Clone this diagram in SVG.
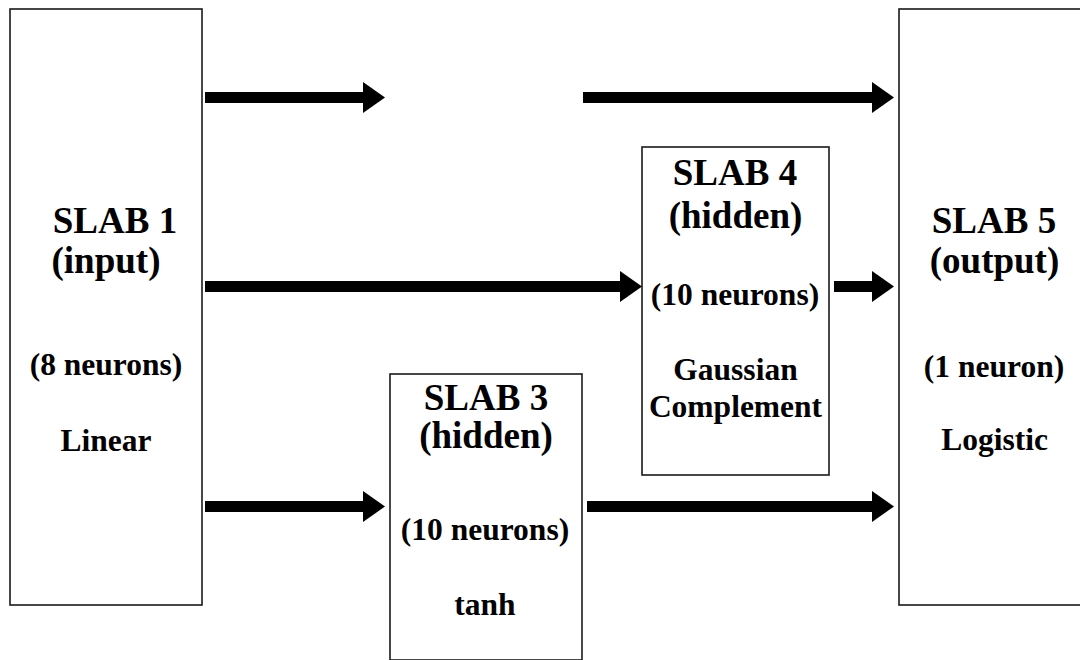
<svg xmlns="http://www.w3.org/2000/svg" width="1080" height="660" viewBox="0 0 1080 660">
<style>
.box{fill:#fff;stroke:#1a1a1a;stroke-width:1.6}
.t{font-family:"Liberation Serif","Times New Roman",serif;font-weight:bold;fill:#000;text-anchor:middle}
.big{font-size:37px}
.sm{font-size:31.5px}
.arr{stroke:#000;stroke-width:11;fill:none;marker-end:url(#ah)}
</style>
<defs>
<marker id="ah" markerUnits="userSpaceOnUse" markerWidth="22" markerHeight="31" viewBox="0 0 22 31" refX="0" refY="15.5" orient="auto" overflow="visible">
<path d="M0,0 L22,15.5 L0,31 Z" fill="#000"/>
</marker>
</defs>
<rect width="1080" height="660" fill="#fff"/>
<g id="slab1">
<rect class="box" x="10" y="9" width="192" height="596"/>
<text class="t big" x="115" y="233">SLAB 1</text>
<text class="t big" x="106" y="273">(input)</text>
<text class="t sm" x="106" y="375">(8 neurons)</text>
<text class="t sm" x="106" y="451">Linear</text>
</g>
<g id="slab3">
<rect class="box" x="390" y="374" width="192" height="286"/>
<text class="t big" x="486" y="410">SLAB 3</text>
<text class="t big" x="486" y="448">(hidden)</text>
<text class="t sm" x="485" y="540">(10 neurons)</text>
<text class="t sm" x="485" y="615">tanh</text>
</g>
<g id="slab4">
<rect class="box" x="642" y="147" width="187" height="328"/>
<text class="t big" x="735" y="185">SLAB 4</text>
<text class="t big" x="735.5" y="228">(hidden)</text>
<text class="t sm" x="735" y="305">(10 neurons)</text>
<text class="t sm" x="735.5" y="380">Gaussian</text>
<text class="t sm" x="735.5" y="417">Complement</text>
</g>
<g id="slab5">
<rect class="box" x="899" y="9" width="190" height="596"/>
<text class="t big" x="994" y="233">SLAB 5</text>
<text class="t big" x="994.5" y="273">(output)</text>
<text class="t sm" x="994" y="377">(1 neuron)</text>
<text class="t sm" x="994.5" y="450">Logistic</text>
</g>
<g id="connectors">
<line class="arr" x1="205" y1="97.5" x2="363" y2="97.5"/>
<line class="arr" x1="583" y1="97.5" x2="872" y2="97.5"/>
<line class="arr" x1="205" y1="286.5" x2="620" y2="286.5"/>
<line class="arr" x1="834" y1="286.5" x2="872" y2="286.5"/>
<line class="arr" x1="205" y1="506.5" x2="363" y2="506.5"/>
<line class="arr" x1="587" y1="506.5" x2="872" y2="506.5"/>
</g>
</svg>
